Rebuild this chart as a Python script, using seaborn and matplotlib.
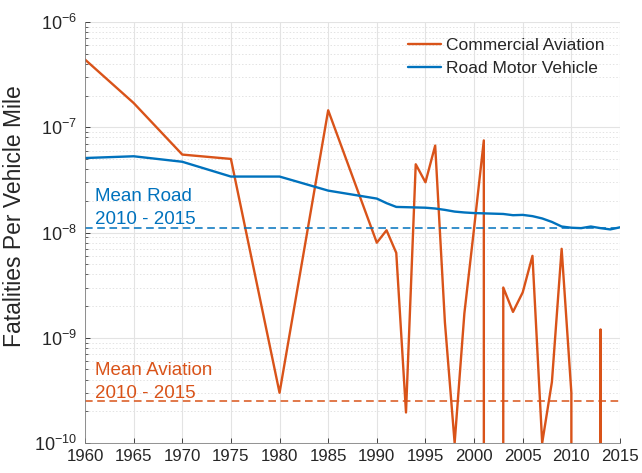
import matplotlib
matplotlib.use("Agg")
import matplotlib.pyplot as plt
import numpy as np
import pandas as pd
import seaborn as sns
from matplotlib.ticker import LogLocator, NullFormatter

# Data
aviation_years = [1960, 1965, 1970, 1975, 1980, 1985] + list(range(1990, 2016))
aviation_rate = [
    4.4e-7, 1.7e-7, 5.5e-8, 5.0e-8, 3.0e-10, 1.45e-7,
    # 1990 - 1999
    8.0e-9, 1.05e-8, 6.4e-9, 1.95e-10, 4.45e-8, 3.0e-8, 6.7e-8, 1.4e-9, 1.0e-10, 1.7e-9,
    # 2000 - 2009
    1.1e-8, 7.5e-8, 0, 3.0e-9, 1.76e-9, 2.7e-9, 6.0e-9, 1.0e-10, 3.8e-10, 7.0e-9,
    # 2010 - 2015
    3.0e-10, 0, 0, 1.2e-9, 0, 0,
]

road_years = [1960, 1965, 1970, 1975, 1980, 1985, 1990] + list(range(1991, 2016))
road_rate = [
    5.1e-8, 5.3e-8, 4.7e-8, 3.4e-8, 3.4e-8, 2.5e-8, 2.1e-8,
    # 1991 - 2015
    1.9e-8, 1.75e-8, 1.74e-8, 1.73e-8, 1.72e-8, 1.69e-8, 1.64e-8, 1.58e-8, 1.55e-8,
    1.53e-8, 1.52e-8, 1.51e-8, 1.50e-8, 1.46e-8, 1.47e-8, 1.43e-8, 1.36e-8, 1.26e-8,
    1.14e-8, 1.11e-8, 1.10e-8, 1.14e-8, 1.10e-8, 1.07e-8, 1.12e-8,
]

series_names = ["Commercial Aviation", "Road Motor Vehicle"]
colors = {"Commercial Aviation": "#D95319", "Road Motor Vehicle": "#0072BD"}

df = pd.concat([
    pd.DataFrame({"year": aviation_years, "rate": aviation_rate, "series": series_names[0]}),
    pd.DataFrame({"year": road_years, "rate": road_rate, "series": series_names[1]}),
], ignore_index=True)

# means over 2010 - 2015
mean_aviation = df[(df.series == series_names[0]) & (df.year >= 2010)]["rate"].mean()
mean_road = df[(df.series == series_names[1]) & (df.year >= 2010)]["rate"].mean()

sns.set_style("ticks")
plt.rcParams["font.family"] = ["Liberation Sans", "DejaVu Sans"]
plt.rcParams["axes.edgecolor"] = "#262626"
plt.rcParams["xtick.color"] = "#262626"
plt.rcParams["ytick.color"] = "#262626"

fig = plt.figure(figsize=(6.42, 4.73), dpi=100)
ax = fig.add_axes([85 / 642, 30 / 473, 535 / 642, 421 / 473])

sns.lineplot(data=df, x="year", y="rate", hue="series", hue_order=series_names,
             palette=colors, estimator=None, sort=False, linewidth=1.7, ax=ax)

# zero years drop straight off the bottom of the log axis
ax.set_yscale("log", nonpositive="clip")
ax.set_ylim(1e-10, 1e-6)
ax.set_xlim(1960, 2015)

ax.axhline(mean_road, color=colors[series_names[1]], linestyle=(0, (5, 3)), linewidth=1.1)
ax.axhline(mean_aviation, color=colors[series_names[0]], linestyle=(0, (5, 3)), linewidth=1.1)

tr = ax.get_xaxis_transform()
ax.text(1961.0, 0.520, "Mean Road\n2010 - 2015", transform=tr, color=colors[series_names[1]],
        fontsize=13.5, va="baseline", ha="left", linespacing=1.45)
ax.text(1961.0, 0.108, "Mean Aviation\n2010 - 2015", transform=tr, color=colors[series_names[0]],
        fontsize=13.5, va="baseline", ha="left", linespacing=1.45)

ax.set_xticks(np.arange(1960, 2016, 5))
ax.yaxis.set_major_locator(LogLocator(base=10, numticks=10))
ax.yaxis.set_minor_locator(LogLocator(base=10, subs=np.arange(2, 10), numticks=20))
ax.yaxis.set_minor_formatter(NullFormatter())

ax.grid(True, which="major", color="#e3e3e3", linewidth=0.8)
ax.grid(True, which="minor", axis="y", color="#e3e3e3", linestyle=(0, (1.5, 2)), linewidth=0.7)
ax.set_axisbelow(True)

ax.tick_params(axis="both", which="major", direction="in", length=3.5, width=0.6,
               labelsize=13, colors="#262626")
ax.tick_params(axis="x", pad=4, labelsize=12.2)
ax.tick_params(axis="y", pad=6)
ax.tick_params(axis="y", which="minor", direction="in", length=2, width=0.5)

for side in ["top", "right"]:
    ax.spines[side].set_visible(False)
for side in ["left", "bottom"]:
    ax.spines[side].set_linewidth(0.6)
    ax.spines[side].set_color("#808080")

ax.set_xlabel("")
ax.set_ylabel("Fatalities Per Vehicle Mile", fontsize=16.5, color="#262626")
ax.yaxis.set_label_coords(-0.110, 0.539)

handles, labels = ax.get_legend_handles_labels()
ax.legend(handles, labels, loc="upper right", frameon=False, fontsize=12.5,
          handlelength=1.9, handletextpad=0.3, labelspacing=0.45,
          borderaxespad=0.5)

fig.savefig("out.png", dpi=100)
